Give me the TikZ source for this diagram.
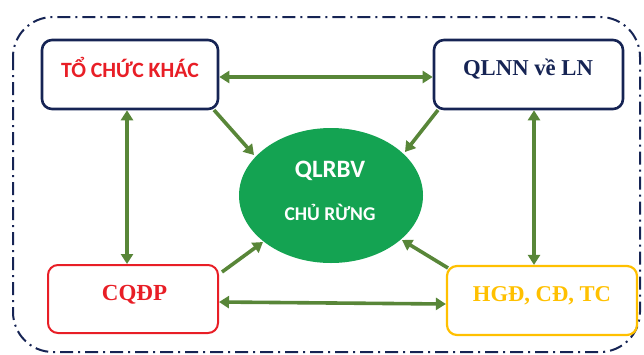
\documentclass[tikz,border=0pt]{standalone}
\usepackage{fontspec}
\setmainfont{Liberation Serif}
\newfontfamily\calfont{Carlito}
\usetikzlibrary{shapes.geometric,arrows.meta}
\definecolor{navy}{RGB}{22,36,84}
\definecolor{arrgreen}{RGB}{88,134,56}
\definecolor{ellgreen}{RGB}{20,163,82}
\definecolor{boxred}{RGB}{232,30,38}
\definecolor{gold}{RGB}{255,192,0}
\begin{document}
\begin{tikzpicture}[x=1pt,y=-1pt,
  box/.style={draw,rounded corners=10pt,line width=2.6pt,minimum height=69pt,inner sep=0pt},
  tip/.style={Triangle[length=10pt,width=12pt]},
  conn/.style={draw=arrgreen,line width=3.6pt,{Triangle[length=10pt,width=12pt]}-{Triangle[length=10pt,width=12pt]}},
  one/.style={draw=arrgreen,line width=3.6pt,-{Triangle[length=10pt,width=12pt]}}]
\useasboundingbox (0,0) rectangle (644,354);
\draw[navy,line width=2pt,rounded corners=40pt,dash pattern=on 13pt off 5pt on 2pt off 5pt] (13,17) rectangle (640,352);
\node[box,draw=navy,minimum width=176pt] (tc) at (130,74.5) {};
\node[font=\calfont\bfseries\fontsize{21.8}{24}\selectfont,text=boxred] at (130,67) {TỔ CHỨC KHÁC};
\node[box,draw=navy,minimum width=189pt] (ql) at (528.5,74.5) {};
\node[font=\bfseries\fontsize{22.7}{25}\selectfont,text=navy] at (528,69) {QLNN về LN};
\node[box,draw=boxred,line width=2pt,minimum width=170pt,minimum height=68pt] (cq) at (133,299) {};
\node[font=\bfseries\fontsize{23}{25}\selectfont,text=boxred] at (134.5,295) {CQĐP};
\node[box,draw=gold,line width=2.2pt,minimum width=190pt] (hg) at (542,300.5) {};
\node[font=\bfseries\fontsize{22.6}{25}\selectfont,text=gold] at (542,296) {HGĐ, CĐ, TC};
\node[ellipse,fill=ellgreen,minimum width=184pt,minimum height=135pt,inner sep=0pt] (el) at (331,195.5) {};
\node[font=\calfont\bfseries\fontsize{25}{27}\selectfont,text=white] (t1) at (330,171) {QLRBV};
\node[font=\calfont\bfseries\fontsize{19.5}{22}\selectfont,text=white] (t2) at (330,212) {CHỦ RỪNG};
\draw[conn] ([yshift=-2.5pt]tc.east) -- ([yshift=-2.5pt]ql.west);
\draw[conn] ([yshift=-3pt]cq.east) -- ([yshift=-3.5pt]hg.west);
\draw[conn] ([xshift=-3pt]tc.south) -- ([xshift=-6pt]cq.north);
\draw[conn] ([xshift=5.5pt]ql.south) -- ([xshift=-8pt]hg.north);
\coordinate (a1) at (214,110);
\coordinate (a2) at (438,110);
\coordinate (a3) at (222,272);
\coordinate (a4) at (448,268);
\coordinate (b1) at (254,155);
\coordinate (b2) at (405,152);
\coordinate (b3) at (263,242);
\coordinate (b4) at (402,240);
\draw[one] (a1) -- (b1);
\draw[one] (a2) -- (b2);
\draw[one] (a3) -- (b3);
\draw[one] (a4) -- (b4);
\end{tikzpicture}
\end{document}
